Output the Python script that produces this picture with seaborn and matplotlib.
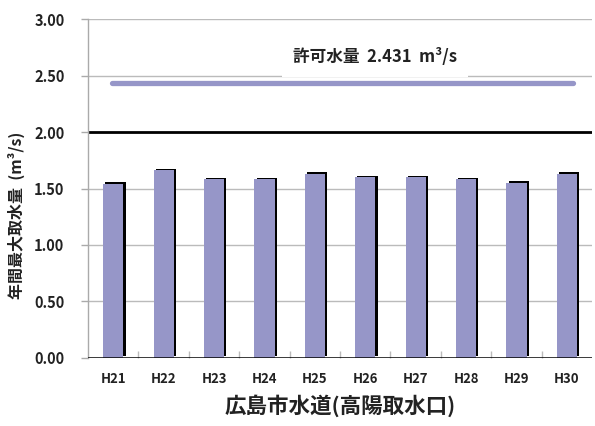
import matplotlib
matplotlib.use("Agg")
import matplotlib.pyplot as plt
import matplotlib.patheffects as pe
import numpy as np
import pandas as pd
import seaborn as sns

# Annual maximum intake per fiscal year
years = ["H21", "H22", "H23", "H24", "H25", "H26", "H27", "H28", "H29", "H30"]
intake = [1.54, 1.66, 1.58, 1.58, 1.63, 1.60, 1.60, 1.58, 1.55, 1.63]

# Permitted intake and reference level
permit = 2.431
permit_label = "許可水量  2.431  m³/s"
ref_level = 2.00

y_ticks = [0.0, 0.5, 1.0, 1.5, 2.0, 2.5, 3.0]
x_title = "広島市水道(高陽取水口)"
y_title = "年間最大取水量  (m³/s)"

bar_color = "#9696C8"

sns.set_theme(style="white")
plt.rcParams["font.family"] = ["Noto Sans CJK JP", "DejaVu Sans"]

fig = plt.figure(figsize=(5.95, 4.26), dpi=100)
ax = fig.add_axes([0.148, 0.160, 0.847, 0.795])

df = pd.DataFrame({"year": years, "intake": intake})
sns.barplot(data=df, x="year", y="intake", order=years, color=bar_color,
            saturation=1, width=0.4, ax=ax, zorder=3)

# black drop shadow on the top/right of each bar
for p in ax.patches:
    p.set_path_effects([
        pe.SimplePatchShadow(offset=(1.6, 1.2), shadow_rgbFace="black", alpha=1.0),
        pe.Normal(),
    ])
    p.set_linewidth(0)

ax.set_xlim(-0.5, len(years) - 0.5)
ax.set_ylim(0, 3.0)
ax.set_yticks(y_ticks)
ax.set_yticklabels([f"{v:.2f}" for v in y_ticks])

# grid lines
for v in y_ticks[1:]:
    if v != ref_level:
        ax.axhline(v, color="#BBBBBB", lw=1.0, zorder=1)

# reference line at 2.00
ax.axhline(ref_level, color="black", lw=2.0, zorder=2)
# zero baseline
ax.axhline(0, color="black", lw=1.8, zorder=4)

# permitted intake line and label
ax.plot([-0.02, 9.12], [permit, permit], color=bar_color, lw=3.8,
        solid_capstyle="round", zorder=3)
ax.text(5.2, 2.665, permit_label, ha="center", va="center", fontsize=12,
        fontweight="bold", color="#222222", zorder=5,
        bbox=dict(fc="white", ec="none", pad=8))

for s in ["top", "right", "bottom"]:
    ax.spines[s].set_visible(False)
ax.spines["left"].set_color("#AAAAAA")
ax.spines["left"].set_linewidth(1.0)

ax.tick_params(axis="y", which="major", length=5, width=1, color="#AAAAAA",
               direction="out", left=True, pad=12, labelsize=10.5)
ax.tick_params(axis="x", which="major", length=0, pad=10, labelsize=9.5)
for lab in ax.get_xticklabels() + ax.get_yticklabels():
    lab.set_fontweight("bold")
    lab.set_color("#222222")

# category boundary ticks along the baseline
ax.set_xticks(np.arange(0.5, len(years) - 0.5, 1.0), minor=True)
ax.tick_params(axis="x", which="minor", bottom=True, direction="in",
               length=5, width=1, color="#BBBBBB")

ax.set_xlabel(x_title, fontsize=15.5, fontweight="bold", color="#222222",
              labelpad=6)
ax.set_ylabel(y_title, fontsize=11.5, fontweight="bold", color="#222222")
ax.yaxis.set_label_coords(-0.125, 0.42)

fig.savefig("out.png", dpi=100)
